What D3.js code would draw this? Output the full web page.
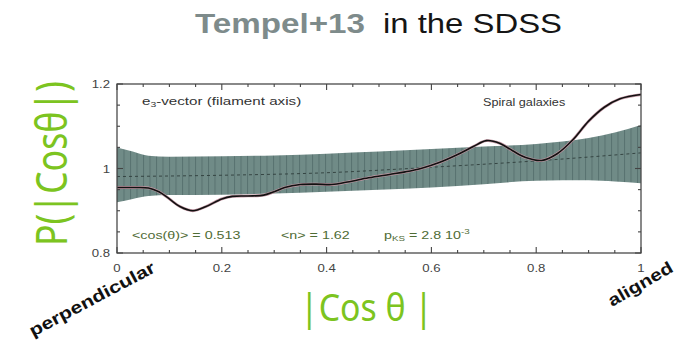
<!DOCTYPE html>
<html><head><meta charset="utf-8">
<script src="https://cdn.jsdelivr.net/npm/d3@7"></script>
<style>body{margin:0;background:#fff}svg{display:block}</style>
</head><body>
<script>
// ---- data ----
const curveX = [0,0.03,0.06,0.08,0.1,0.12,0.145,0.17,0.2,0.22,0.25,0.28,0.3,0.32,0.35,0.38,0.41,0.44,0.48,0.52,0.55,0.58,0.615,0.65,0.68,0.705,0.73,0.755,0.78,0.81,0.84,0.87,0.9,0.93,0.96,1.0];
const curveY = [0.955,0.955,0.954,0.945,0.928,0.91,0.9,0.91,0.928,0.934,0.935,0.937,0.945,0.955,0.962,0.963,0.962,0.968,0.978,0.986,0.992,1.0,1.014,1.033,1.052,1.066,1.06,1.042,1.026,1.019,1.035,1.068,1.112,1.145,1.165,1.175];
const bandX     = [0,0.03,0.06,0.1,0.2,0.3,0.4,0.5,0.6,0.7,0.8,0.9,0.95,1.0];
const bandUpper = [1.05,1.04,1.03,1.028,1.029,1.031,1.035,1.04,1.046,1.052,1.058,1.072,1.085,1.103];
const bandLower = [0.92,0.928,0.935,0.937,0.938,0.941,0.945,0.95,0.955,0.963,0.971,0.972,0.969,0.965];
const meanX = [0,0.2,0.4,0.6,0.8,1.0];
const meanY = [0.981,0.984,0.99,1.003,1.018,1.037];
const xTicks = [0,0.2,0.4,0.6,0.8,1];
const xTickLabels = ["0","0.2","0.4","0.6","0.8","1"];
const yTicks = [0.8,1,1.2];
const yTickLabels = ["0.8","1","1.2"];
const statLabels = ["<cos(θ)> = 0.513","<n> = 1.62"];

const W=695,H=344;
const svg=d3.select("body").append("svg").attr("width",W).attr("height",H);
const L=117,R=641,T=84,B=253;
const x=d3.scaleLinear().domain([0,1]).range([L,R]);
const y=d3.scaleLinear().domain([0.8,1.2]).range([B,T]);

const defs=svg.append("defs");
const pat=defs.append("pattern").attr("id","hatch").attr("patternUnits","userSpaceOnUse").attr("width",6.5).attr("height",10);
pat.append("rect").attr("width",6.5).attr("height",10).attr("fill","#708b87");
pat.append("line").attr("x1",0.5).attr("x2",0.5).attr("y1",0).attr("y2",10).attr("stroke","#587270").attr("stroke-width",1);
defs.append("clipPath").attr("id","clip").append("rect").attr("x",L).attr("y",T).attr("width",R-L).attr("height",B-T);

const g=svg.append("g").attr("clip-path","url(#clip)");
const band=bandX.map((v,i)=>({x:v,u:bandUpper[i],l:bandLower[i]}));
g.append("path").datum(band)
 .attr("d",d3.area().x(d=>x(d.x)).y0(d=>y(d.l)).y1(d=>y(d.u)).curve(d3.curveMonotoneX))
 .attr("fill","url(#hatch)");
g.append("path").datum(meanX.map((v,i)=>[v,meanY[i]]))
 .attr("d",d3.line().x(d=>x(d[0])).y(d=>y(d[1])).curve(d3.curveMonotoneX))
 .attr("fill","none").attr("stroke","#2f3d3b").attr("stroke-width",0.9).attr("stroke-dasharray","3,3");
const cl=d3.line().x(d=>x(d[0])).y(d=>y(d[1])).curve(d3.curveCatmullRom);
const cdata=curveX.map((v,i)=>[v,curveY[i]]);
g.append("path").datum(cdata).attr("d",cl).attr("fill","none").attr("stroke","#c497a4").attr("stroke-width",2.8);
g.append("path").datum(cdata).attr("d",cl).attr("fill","none").attr("stroke","#111").attr("stroke-width",1.6);

// frame
svg.append("rect").attr("x",L).attr("y",T).attr("width",R-L).attr("height",B-T).attr("fill","none").attr("stroke","#4a4a4a").attr("stroke-width",1.3);
const minorX=d3.range(0,1.0001,0.05), minorY=d3.range(0.8,1.2001,0.05);
const tk=svg.append("g").attr("stroke","#444").attr("stroke-width",1.1);
minorX.forEach(v=>{
  const major=xTicks.some(t=>Math.abs(t-v)<1e-6), len=major?6:3;
  tk.append("line").attr("x1",x(v)).attr("x2",x(v)).attr("y1",B).attr("y2",B-len);
  tk.append("line").attr("x1",x(v)).attr("x2",x(v)).attr("y1",T).attr("y2",T+len);
});
minorY.forEach(v=>{
  const major=yTicks.some(t=>Math.abs(t-v)<1e-6), len=major?6:3;
  tk.append("line").attr("x1",L).attr("x2",L+len).attr("y1",y(v)).attr("y2",y(v));
  tk.append("line").attr("x1",R).attr("x2",R-len).attr("y1",y(v)).attr("y2",y(v));
});
const tf="Liberation Sans, Arial, sans-serif";
xTicks.forEach((v,i)=>svg.append("text").attr("transform",`translate(${x(v)},272) scale(1.2,1)`).attr("text-anchor","middle")
  .attr("font-family",tf).attr("font-size",11).attr("fill","#444").text(xTickLabels[i]));
yTicks.forEach((v,i)=>svg.append("text").attr("transform",`translate(110,${y(v)+4}) scale(1.2,1)`).attr("text-anchor","end")
  .attr("font-family",tf).attr("font-size",11).attr("fill","#444").text(yTickLabels[i]));

// annotations (horizontally stretched like the reference)
function stretched(px,py,sx){return svg.append("text").attr("transform",`translate(${px},${py}) scale(${sx},1)`).attr("font-family",tf).attr("font-size",11);}
const e3=stretched(142,105,1.38).attr("fill","#333");
e3.append("tspan").text("e");
e3.append("tspan").attr("dy",2).attr("font-size",7.5).text("3");
e3.append("tspan").attr("dy",-2).text("-vector  (filament axis)");
stretched(483,106,1.15).attr("fill","#333").text("Spiral galaxies");
const sc="#4f6c35";
stretched(132,239,1.3).attr("fill",sc).text(statLabels[0]);
stretched(281,239,1.3).attr("fill",sc).text(statLabels[1]);
const pk=stretched(384,239,1.3).attr("fill",sc);
pk.append("tspan").text("p");
pk.append("tspan").attr("dy",2).attr("font-size",7.5).text("KS");
pk.append("tspan").attr("dy",-2).text(" = 2.8 10");
pk.append("tspan").attr("dy",-5).attr("font-size",7.5).text("-3");

// title
svg.append("text").attr("x",195).attr("y",33).attr("font-family",tf).attr("font-size",27).attr("font-weight","bold")
  .attr("fill","#7e8b8b").attr("textLength",170).attr("lengthAdjust","spacingAndGlyphs").text("Tempel+13");
svg.append("text").attr("x",383).attr("y",33).attr("font-family",tf).attr("font-size",27)
  .attr("fill","#151515").attr("textLength",179).attr("lengthAdjust","spacingAndGlyphs").text("in the SDSS");

// axis labels
const gf="'Noto Sans', 'DejaVu Sans', sans-serif", green="#7cc420";
svg.append("text").attr("transform","translate(67,246) rotate(-90)").attr("font-family",gf).attr("font-size",44)
  .attr("fill",green).attr("textLength",165).attr("lengthAdjust","spacingAndGlyphs").text("P(|Cosθ|)");
svg.append("text").attr("x",300).attr("y",321).attr("font-family",gf).attr("font-size",38)
  .attr("fill",green).attr("textLength",133).attr("lengthAdjust","spacingAndGlyphs").text("|Cos θ |");
svg.append("text").attr("transform","translate(33,337) rotate(-28)").attr("font-family",tf).attr("font-size",17).attr("font-weight","bold")
  .attr("fill","#111").attr("textLength",140).attr("lengthAdjust","spacingAndGlyphs").text("perpendicular");
svg.append("text").attr("transform","translate(612,307) rotate(-30)").attr("font-family",tf).attr("font-size",17).attr("font-weight","bold")
  .attr("fill","#111").attr("textLength",72).attr("lengthAdjust","spacingAndGlyphs").text("aligned");
</script>
</body></html>
